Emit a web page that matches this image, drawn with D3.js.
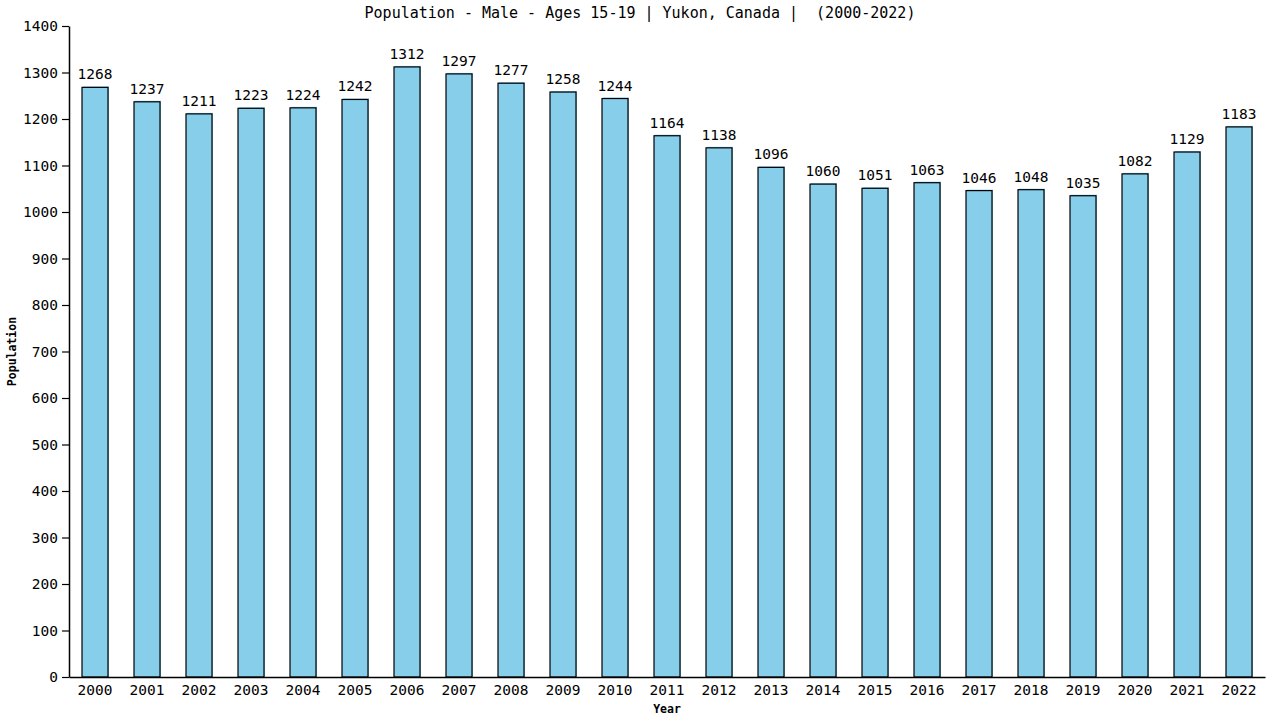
<!DOCTYPE html>
<html>
<head>
<meta charset="utf-8">
<script src="https://cdn.jsdelivr.net/npm/d3@7"></script>
<style>
body { margin: 0; background: #fff; }
svg text { font-family: "DejaVu Sans Mono", monospace; white-space: pre; }
</style>
</head>
<body>
<div id="chart-area"></div>
<script>
var years = ["2000", "2001", "2002", "2003", "2004", "2005", "2006", "2007", "2008", "2009", "2010",
	"2011", "2012", "2013", "2014", "2015", "2016", "2017", "2018", "2019", "2020", "2021", "2022"];
var population = [1268, 1237, 1211, 1223, 1224, 1242, 1312, 1297, 1277, 1258, 1244,
	1164, 1138, 1096, 1060, 1051, 1063, 1046, 1048, 1035, 1082, 1129, 1183];
var yTicks = [0, 100, 200, 300, 400, 500, 600, 700, 800, 900, 1000, 1100, 1200, 1300, 1400];

var margin = { top: 26, right: 15, bottom: 43, left: 69 };
var width = 1280;
var height = 720;
var charWidth = width - margin.left - margin.right;
var charHeight = height - margin.top - margin.bottom;
var fontSize = "14.5px";

var svg = d3.select("#chart-area")
	.append("svg")
	.attr("width", width)
	.attr("height", height);

var g = svg.append("g")
	.attr("transform", "translate(" + margin.left + ", " + margin.top + ")");

var xScale = d3.scaleBand()
	.domain(years)
	.range([0, charWidth])
	.paddingInner(0.5)
	.paddingOuter(0.25);

var yScale = d3.scaleLinear()
	.domain([0, 1400])
	.range([charHeight, 0]);

// bars: blue fill slightly offset, black outline on top
g.selectAll("rect.fill")
	.data(population)
	.enter().append("rect")
	.attr("class", "fill")
	.attr("x", (d, i) => xScale(years[i]) + 1)
	.attr("y", d => yScale(d) - 1)
	.attr("width", xScale.bandwidth())
	.attr("height", d => charHeight - yScale(d) + 1)
	.attr("fill", "#87ceeb");

g.selectAll("rect.bar")
	.data(population)
	.enter().append("rect")
	.attr("class", "bar")
	.attr("x", (d, i) => xScale(years[i]))
	.attr("y", d => yScale(d))
	.attr("width", xScale.bandwidth())
	.attr("height", d => charHeight - yScale(d))
	.attr("fill", "#87ceeb")
	.attr("stroke", "#000")
	.attr("stroke-width", 1.2);

g.selectAll("text.val")
	.data(population)
	.enter().append("text")
	.attr("class", "val")
	.attr("x", (d, i) => xScale(years[i]) + xScale.bandwidth() / 2)
	.attr("y", d => yScale(d) - 8)
	.attr("text-anchor", "middle")
	.attr("font-size", fontSize)
	.attr("fill", "#000")
	.text(d => d);

var xAxis = d3.axisBottom(xScale).tickSize(0).tickPadding(8);
var xAxisG = g.append("g")
	.attr("transform", "translate(0," + charHeight + ")")
	.call(xAxis);
xAxisG.selectAll("text").attr("font-size", fontSize).attr("fill", "#000").style("font-family", "DejaVu Sans Mono");
xAxisG.select(".domain").attr("stroke", "#000").attr("stroke-width", 1.5);

var yAxis = d3.axisLeft(yScale).tickValues(yTicks).tickFormat(d3.format("d"))
	.tickSize(7).tickPadding(4).tickSizeOuter(0);
var yAxisG = g.append("g").call(yAxis);
yAxisG.selectAll("text").attr("font-size", fontSize).attr("fill", "#000").style("font-family", "DejaVu Sans Mono");
yAxisG.select(".domain").attr("stroke", "#000").attr("stroke-width", 1.5);
yAxisG.selectAll(".tick line").attr("stroke", "#000").attr("stroke-width", 1.2);

svg.append("text")
	.attr("x", 640)
	.attr("y", 18)
	.attr("text-anchor", "middle")
	.attr("font-size", "15px")
	.attr("fill", "#000")
	.text("Population - Male - Ages 15-19 | Yukon, Canada |  (2000-2022)");

svg.append("text")
	.attr("x", margin.left + charWidth / 2)
	.attr("y", 713)
	.attr("text-anchor", "middle")
	.attr("font-size", "11.5px")
	.attr("font-weight", "bold")
	.attr("fill", "#000")
	.text("Year");

svg.append("text")
	.attr("transform", "translate(16," + (margin.top + charHeight / 2) + ") rotate(-90)")
	.attr("text-anchor", "middle")
	.attr("font-size", "11.5px")
	.attr("font-weight", "bold")
	.attr("fill", "#000")
	.text("Population");
</script>
</body>
</html>
